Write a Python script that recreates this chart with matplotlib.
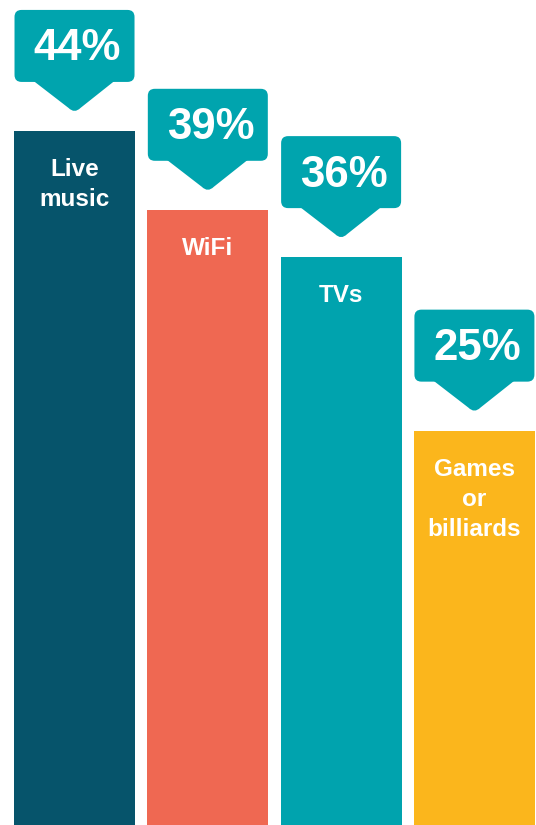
import matplotlib.pyplot as plt
import matplotlib.transforms as mtransforms
from matplotlib.patches import FancyBboxPatch, PathPatch
from matplotlib.path import Path

plt.rcParams['font.family'] = ['Liberation Sans', 'DejaVu Sans']

labels = ['Live\nmusic', 'WiFi', 'TVs', 'Games\nor\nbilliards']
values = [44, 39, 36, 25]
colors = ['#06546B', '#EF6852', '#00A3AE', '#FBB61C']
callout_color = '#00A4AE'

fig = plt.figure(figsize=(5.36, 8.25), dpi=100)
ax = fig.add_axes([0, 0, 1, 1])
ax.set_xlim(-0.559, 3.462)
ax.set_ylim(0, 52.3)
ax.axis('off')

x = range(len(values))
ax.bar(x, values, width=0.908, color=colors, linewidth=0)


def px_trans(xd, yd):
    # vertices in pixels relative to a data point
    return (mtransforms.Affine2D().scale(fig.dpi / 100.0)
            + mtransforms.ScaledTranslation(xd, yd, ax.transData))


for i, v in enumerate(values):
    t = px_trans(i, v)
    # speech bubble: box + downward pointer with rounded tip
    box = FancyBboxPatch((-60, 49), 120, 72,
                         boxstyle='round,pad=0,rounding_size=7',
                         transform=t, facecolor=callout_color,
                         edgecolor='none', zorder=3)
    ax.add_patch(box)
    verts = [(-41, 50), (-6, 23), (0, 17), (6, 23), (40, 50), (-41, 50)]
    codes = [Path.MOVETO, Path.LINETO, Path.CURVE3, Path.CURVE3,
             Path.LINETO, Path.CLOSEPOLY]
    ax.add_patch(PathPatch(Path(verts, codes), transform=t,
                           facecolor=callout_color, edgecolor='none',
                           zorder=3))
    ax.text(3, 82, f'{v}%', transform=t, ha='center', va='center',
            color='white', fontsize=31.5, fontweight='bold', zorder=4)
    ax.text(0, -27, labels[i], transform=t, ha='center', va='top',
            color='white', fontsize=17.5, fontweight='bold',
            linespacing=1.4, zorder=4)

fig.savefig('out.png', dpi=100)
